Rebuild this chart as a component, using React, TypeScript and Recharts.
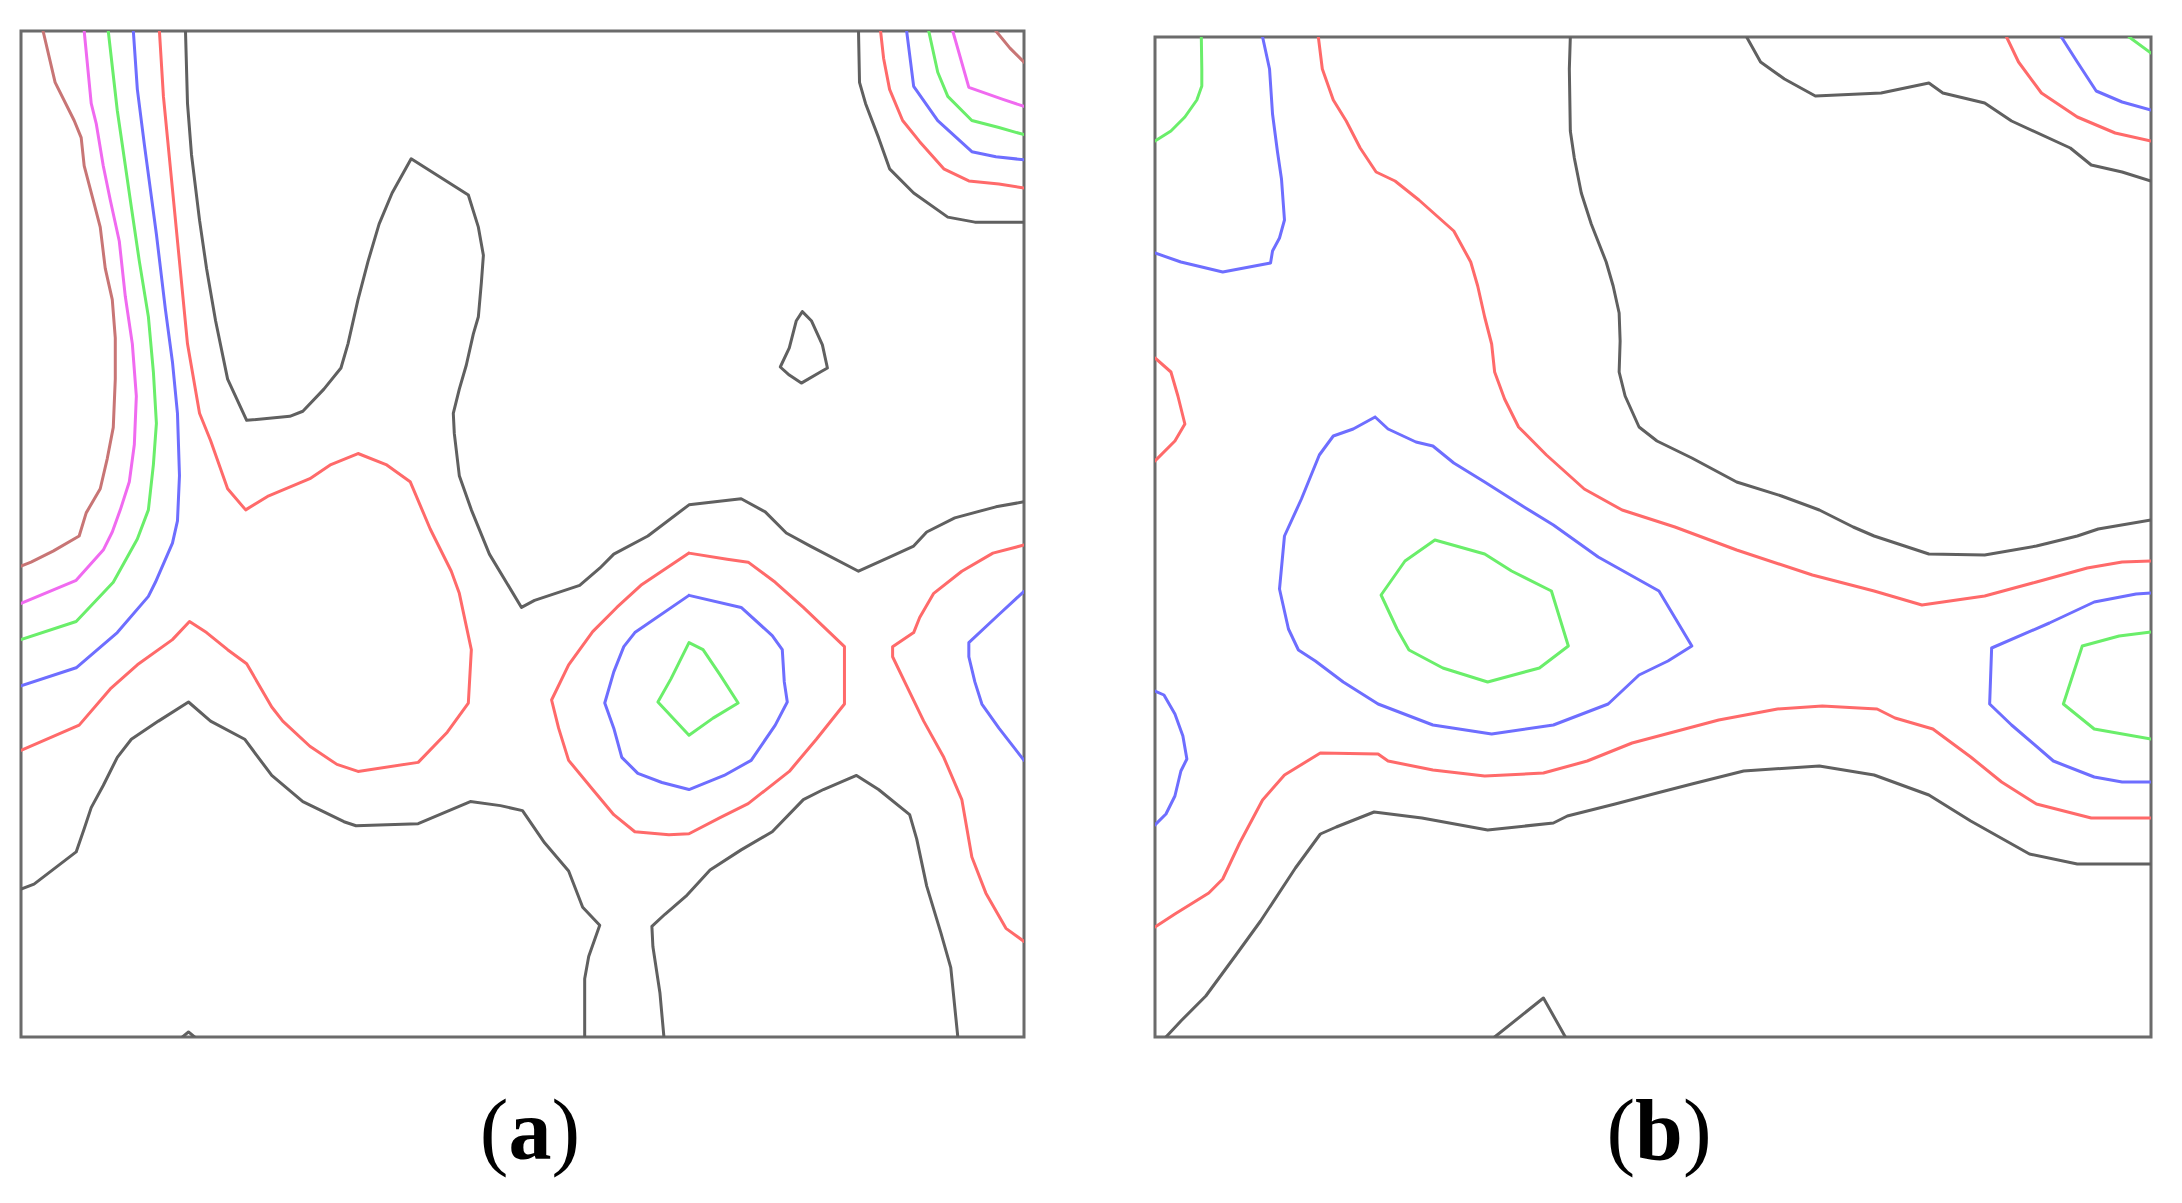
import React from 'react';
import { ScatterChart, Scatter, XAxis, YAxis, ReferenceArea } from 'recharts';

// contour traces, x/y in percent of the panel (0..100, y up)
type Pt = [number, number];

// ---- panel (a) ----
const aBrownLeft: Pt[] = [[2.2,100],[3.4,94.9],[5.3,91.1],[6.0,89.4],[6.3,86.6],[7.2,83.2],[7.9,80.5],[8.4,76.4],[9.1,73.3],[9.4,69.5],[9.4,65.4],[9.2,60.6],[8.6,57.5],[7.9,54.5],[6.5,52.1],[5.8,49.8],[3.2,48.3],[1.0,47.2],[0,46.8]];
const aMagentaLeft: Pt[] = [[6.3,100],[7.0,92.8],[7.5,90.8],[8.2,86.6],[8.9,83.2],[9.8,79.1],[10.4,73.6],[11.1,68.9],[11.5,63.7],[11.3,58.9],[10.8,55.2],[9.9,52.4],[9.1,50.2],[8.2,48.4],[5.5,45.4],[0,43.1]];
const aGreenLeft: Pt[] = [[8.7,100],[9.6,92.1],[10.1,88.7],[11.0,82.5],[11.8,77.1],[12.7,71.6],[13.2,66.1],[13.5,61.0],[13.2,56.9],[12.7,52.4],[11.6,49.5],[9.2,45.2],[5.5,41.3],[0,39.5]];
const aBlueLeft: Pt[] = [[11.2,100],[11.6,94.2],[12.3,88.7],[13.5,79.8],[14.4,72.3],[15.1,67.1],[15.6,62.0],[15.8,55.8],[15.6,51.3],[15.1,49.1],[13.4,45.2],[12.7,43.8],[9.6,40.2],[5.5,36.7],[0,34.9]];
const aRedMain: Pt[] = [[13.8,100],[14.2,93.5],[14.6,89.4],[15.8,77.1],[16.6,68.9],[17.8,62.0],[18.9,59.3],[20.6,54.5],[22.4,52.4],[24.7,53.8],[28.8,55.5],[30.9,56.9],[33.6,58.0],[36.4,56.9],[38.8,55.2],[40.8,50.5],[42.9,46.3],[43.7,44.1],[44.9,38.5],[44.6,33.2],[42.5,30.3],[39.6,27.3],[33.6,26.4],[31.5,27.1],[28.8,28.9],[26.1,31.4],[25.0,32.8],[22.5,37.1],[20.6,38.5],[18.5,40.2],[16.8,41.3],[15.1,39.5],[11.6,37.0],[8.9,34.6],[5.8,31.0],[0,28.5]];
const aBlackMain: Pt[] = [[16.4,100],[16.6,92.8],[17.0,87.7],[17.8,81.2],[18.5,76.4],[19.4,71.2],[20.6,65.4],[22.5,61.3],[26.8,61.7],[28.1,62.2],[30.2,64.4],[31.9,66.5],[32.6,68.9],[33.6,73.3],[34.6,77.1],[35.7,80.8],[37.0,83.9],[38.9,87.3],[44.6,83.7],[45.6,80.5],[46.1,77.7],[45.9,75.0],[45.6,71.6],[45.1,69.9],[44.4,66.8],[43.7,64.4],[43.1,62.0],[43.2,60.0],[43.7,55.8],[44.9,52.4],[46.7,48.0],[49.9,42.7],[51.2,43.4],[55.7,44.9],[57.7,46.6],[59.1,48.0],[62.5,49.8],[66.6,52.9],[71.8,53.5],[74.2,52.2],[76.3,50.1],[78.7,48.8],[83.5,46.3],[86.6,47.7],[89.0,48.8],[90.3,50.2],[93.1,51.6],[97.2,52.7],[100,53.2]];
const aBlackLowerLeft: Pt[] = [[0,14.7],[1.3,15.2],[5.5,18.4],[6.3,20.7],[7.0,22.8],[8.2,25.0],[9.6,27.8],[11.0,29.6],[13.7,31.4],[16.7,33.3],[18.9,31.4],[22.3,29.6],[25.0,26.0],[28.1,23.4],[32.2,21.4],[33.4,21.0],[39.6,21.2],[42.2,22.3],[44.8,23.4],[47.8,23.0],[50.0,22.5],[52.2,19.3],[54.6,16.5],[56.0,12.9],[57.7,11.1],[56.6,8.0],[56.2,5.8],[56.2,0]];
const aBlackLowerMid: Pt[] = [[64.1,0],[63.7,4.4],[63.0,9.0],[62.9,11.0],[64.2,12.2],[66.3,14.0],[68.7,16.6],[71.8,18.6],[74.9,20.4],[78.0,23.6],[80.0,24.6],[83.3,26.0],[85.5,24.6],[88.6,22.1],[89.3,19.7],[90.3,15.0],[91.7,10.4],[92.7,6.9],[93.4,0]];
const aRedRing: Pt[] = [[66.6,48.1],[70.4,47.5],[72.5,47.2],[75.2,45.2],[78.0,42.7],[82.1,38.8],[82.1,33.1],[79.3,29.6],[76.6,26.4],[72.5,23.2],[69.7,21.8],[66.6,20.2],[64.6,20.1],[61.2,20.4],[59.1,22.1],[57.0,24.6],[54.6,27.5],[53.6,30.7],[52.9,33.5],[54.6,37.0],[57.0,40.3],[59.4,42.7],[61.8,44.9],[66.6,48.1]];
const aBlueRing: Pt[] = [[66.6,43.9],[71.8,42.7],[74.9,39.9],[75.9,38.5],[76.1,35.3],[76.4,33.3],[75.2,31.0],[72.8,27.5],[70.1,26.0],[66.6,24.6],[63.9,25.3],[61.5,26.2],[59.9,27.8],[59.1,30.7],[58.2,33.2],[59.1,36.3],[60.1,38.8],[61.2,40.2],[66.6,43.9]];
const aGreenPeak: Pt[] = [[66.6,39.2],[68.0,38.5],[69.7,36.0],[71.5,33.2],[69.0,31.7],[66.6,30.0],[63.5,33.3],[64.8,35.6],[66.6,39.2]];
const aRedRight: Pt[] = [[100,48.9],[96.9,48.1],[93.8,46.3],[91.0,44.1],[89.6,41.7],[89.0,40.2],[86.9,38.8],[86.9,37.8],[88.3,34.9],[90.0,31.4],[92.0,27.8],[93.8,23.6],[94.8,17.9],[96.2,14.3],[98.2,10.8],[100,9.5]];
const aBlueRight: Pt[] = [[100,44.3],[97.5,42.0],[94.5,39.2],[94.5,37.8],[95.1,35.3],[95.8,33.1],[97.5,30.7],[100,27.5]];
const aBlackTopRight: Pt[] = [[83.5,100],[83.6,94.9],[84.2,92.8],[85.5,89.4],[86.6,86.3],[89.0,83.9],[92.4,81.5],[95.1,81.0],[100,81.0]];
const aRedTopRight: Pt[] = [[85.7,100],[86.0,97.3],[86.6,94.2],[87.9,91.1],[89.6,89.0],[92.0,86.3],[94.5,85.1],[97.5,84.8],[100,84.4]];
const aBlueTopRight: Pt[] = [[88.3,100],[89.0,94.5],[91.4,91.1],[94.8,88.0],[97.2,87.5],[100,87.2]];
const aGreenTopRight: Pt[] = [[90.5,100],[91.4,95.9],[92.4,93.5],[94.8,91.1],[97.5,90.4],[100,89.7]];
const aMagentaTopRight: Pt[] = [[92.9,100],[94.5,94.4],[97.9,93.2],[100,92.5]];
const aBrownTopRight: Pt[] = [[97.2,100],[98.6,98.3],[100,96.9]];
const aBlackIsland: Pt[] = [[77.9,72.1],[78.8,71.2],[79.9,68.8],[80.4,66.5],[79.7,66.1],[77.8,65.0],[76.6,65.8],[75.7,66.6],[76.6,68.5],[77.3,71.2],[77.9,72.1]];
const aBlackNub: Pt[] = [[16.1,0],[16.7,0.5],[17.3,0]];

// ---- panel (b) ----
const bGreenTopLeft: Pt[] = [[4.65,100],[4.7,96.8],[4.7,95.1],[4.2,93.7],[3.0,92.0],[1.6,90.6],[0,89.6]];
const bBlueTopLeft: Pt[] = [[10.8,100],[11.5,96.8],[11.8,92.3],[12.3,88.5],[12.7,85.8],[13.0,81.7],[12.5,79.9],[11.8,78.6],[11.6,77.4],[6.8,76.5],[2.6,77.5],[0,78.4]];
const bRedMain: Pt[] = [[16.4,100],[16.8,96.8],[17.9,93.7],[19.2,91.6],[20.6,88.9],[22.2,86.5],[24.1,85.6],[26.5,83.7],[30.0,80.6],[31.7,77.5],[32.4,75.1],[33.1,72.0],[33.8,69.3],[34.1,66.5],[35.1,63.8],[36.5,61.0],[39.3,58.2],[43.1,54.8],[46.9,52.7],[52.2,51.0],[58.4,48.7],[66.0,46.2],[72.2,44.6],[77.0,43.2],[83.3,44.1],[88.5,45.5],[93.6,46.9],[97.1,47.5],[100,47.6]];
const bBlackMain: Pt[] = [[41.7,100],[41.6,96.8],[41.7,90.6],[42.1,87.9],[42.8,84.4],[43.8,81.3],[45.3,77.5],[46.0,75.1],[46.6,72.4],[46.7,69.6],[46.6,66.5],[47.2,64.1],[48.6,61.0],[50.4,59.6],[53.9,57.9],[58.4,55.5],[62.9,54.1],[66.7,52.7],[70.1,51.0],[72.2,50.1],[77.7,48.3],[83.3,48.2],[88.5,49.1],[92.6,50.1],[94.7,50.8],[100,51.7]];
const bBlackTopRight: Pt[] = [[59.4,100],[60.8,97.5],[63.2,95.8],[66.3,94.1],[72.9,94.4],[77.7,95.4],[79.1,94.4],[83.3,93.4],[86.0,91.6],[91.9,88.9],[94.0,87.2],[97.1,86.5],[100,85.6]];
const bRedTopRight: Pt[] = [[85.5,100],[86.7,97.5],[89.0,94.4],[92.6,92.0],[96.4,90.4],[100,89.6]];
const bBlueTopRight: Pt[] = [[91.0,100],[92.6,97.5],[94.5,94.6],[97.1,93.5],[100,92.7]];
const bGreenTopRight: Pt[] = [[97.8,100],[100,98.4]];
const bRedLeftBulge: Pt[] = [[0,67.9],[1.6,66.5],[2.3,64.1],[3.0,61.3],[2.0,59.6],[0,57.6]];
const bBlueLeftBulge: Pt[] = [[0,34.6],[0.9,34.2],[2.0,32.3],[2.8,30.1],[3.2,27.8],[2.6,26.6],[2.0,24.1],[1.1,22.3],[0,21.2]];
const bBlueLoop: Pt[] = [[22.1,62.0],[23.4,60.8],[26.2,59.5],[27.9,59.1],[30.0,57.4],[33.1,55.5],[36.9,53.1],[40.0,51.2],[44.5,48.0],[50.6,44.6],[53.9,39.1],[51.5,37.6],[48.6,36.2],[45.5,33.3],[40.0,31.2],[33.8,30.3],[27.9,31.2],[22.4,33.3],[18.9,35.5],[16.1,37.6],[14.4,38.7],[13.4,40.8],[12.5,44.8],[13.0,50.1],[14.7,53.8],[16.5,58.2],[17.9,60.1],[19.9,60.8],[22.1,62.0]];
const bGreenLoop: Pt[] = [[28.1,49.7],[33.1,48.3],[35.8,46.6],[39.8,44.6],[41.5,39.1],[38.6,36.9],[33.4,35.5],[28.9,36.9],[25.5,38.7],[24.3,40.8],[22.7,44.2],[25.1,47.6],[28.1,49.7]];
const bRedLower: Pt[] = [[0,11.0],[2.0,12.3],[5.4,14.4],[6.8,15.8],[8.5,19.4],[10.8,23.7],[13.0,26.2],[16.6,28.4],[22.4,28.3],[23.4,27.6],[27.9,26.7],[33.1,26.1],[39.0,26.4],[43.4,27.6],[47.9,29.4],[53.2,30.8],[56.6,31.7],[62.5,32.8],[67.0,33.1],[72.5,32.8],[74.3,31.9],[78.1,30.8],[81.9,28.0],[85.0,25.5],[88.5,23.3],[94.0,21.9],[100,21.9]];
const bBlueRight: Pt[] = [[100,44.4],[98.5,44.3],[94.3,43.5],[89.8,41.4],[84.0,38.9],[83.8,33.3],[86.0,31.2],[90.2,27.6],[94.3,26.0],[97.1,25.5],[100,25.5]];
const bGreenRight: Pt[] = [[100,40.5],[96.8,40.1],[93.1,39.1],[91.2,33.3],[94.3,30.8],[100,29.8]];
const bBlackLower: Pt[] = [[1.1,0],[2.6,1.6],[5.1,4.1],[8.2,8.3],[10.6,11.6],[14.1,16.9],[16.6,20.3],[18.2,21.0],[22.0,22.5],[26.8,21.9],[33.4,20.7],[40.0,21.4],[41.4,22.1],[46.2,23.3],[50.4,24.4],[53.9,25.3],[59.1,26.6],[66.7,27.1],[72.2,26.2],[77.7,24.2],[81.9,21.6],[87.8,18.3],[92.6,17.3],[100,17.3]];
const bBlackBump: Pt[] = [[34.1,0],[39.0,3.9],[41.2,0]];

// contour level of each trace (1 = lowest)
const panelA: { level: number; points: Pt[] }[] = [
  { level: 1, points: aBlackMain },
  { level: 1, points: aBlackLowerLeft },
  { level: 1, points: aBlackLowerMid },
  { level: 1, points: aBlackTopRight },
  { level: 1, points: aBlackIsland },
  { level: 1, points: aBlackNub },
  { level: 2, points: aRedMain },
  { level: 2, points: aRedRing },
  { level: 2, points: aRedRight },
  { level: 2, points: aRedTopRight },
  { level: 3, points: aBlueLeft },
  { level: 3, points: aBlueRing },
  { level: 3, points: aBlueRight },
  { level: 3, points: aBlueTopRight },
  { level: 4, points: aGreenLeft },
  { level: 4, points: aGreenPeak },
  { level: 4, points: aGreenTopRight },
  { level: 5, points: aMagentaLeft },
  { level: 5, points: aMagentaTopRight },
  { level: 6, points: aBrownLeft },
  { level: 6, points: aBrownTopRight },
];

const panelB: { level: number; points: Pt[] }[] = [
  { level: 1, points: bBlackMain },
  { level: 1, points: bBlackTopRight },
  { level: 1, points: bBlackLower },
  { level: 1, points: bBlackBump },
  { level: 2, points: bRedMain },
  { level: 2, points: bRedTopRight },
  { level: 2, points: bRedLeftBulge },
  { level: 2, points: bRedLower },
  { level: 3, points: bBlueTopLeft },
  { level: 3, points: bBlueTopRight },
  { level: 3, points: bBlueLeftBulge },
  { level: 3, points: bBlueLoop },
  { level: 3, points: bBlueRight },
  { level: 4, points: bGreenTopLeft },
  { level: 4, points: bGreenTopRight },
  { level: 4, points: bGreenLoop },
  { level: 4, points: bGreenRight },
];

const LEVEL_COLORS: Record<number, string> = {
  1: '#606060',
  2: '#ff6a6a',
  3: '#6e6eff',
  4: '#6aee6a',
  5: '#f06af0',
  6: '#c87575',
};

const NoDot = () => <g />;

interface PanelProps {
  contours: { level: number; points: Pt[] }[];
  left: number;
  top: number;
  width: number;
  height: number;
}

const PAD = 3;

const ContourPanel: React.FC<PanelProps> = ({ contours, left, top, width, height }) => (
  <div style={{ position: 'absolute', left: left - PAD, top: top - PAD }}>
    <ScatterChart
      width={width + PAD * 2}
      height={height + PAD * 2}
      margin={{ top: PAD, right: PAD, bottom: PAD, left: PAD }}
    >
      <XAxis type="number" dataKey="x" domain={[0, 100]} hide allowDataOverflow />
      <YAxis type="number" dataKey="y" domain={[0, 100]} hide allowDataOverflow />
      {contours.map((c, i) => (
        <Scatter
          key={i}
          data={c.points.map(([x, y]) => ({ x, y }))}
          fill={LEVEL_COLORS[c.level]}
          line={{
            stroke: LEVEL_COLORS[c.level],
            strokeWidth: 3,
            strokeLinejoin: 'round',
            strokeLinecap: 'round',
          }}
          lineType="joint"
          shape={NoDot}
          isAnimationActive={false}
        />
      ))}
      <ReferenceArea
        x1={0}
        x2={100}
        y1={0}
        y2={100}
        fill="none"
        fillOpacity={0}
        stroke="#6b6b6b"
        strokeWidth={3}
        ifOverflow="visible"
      />
    </ScatterChart>
  </div>
);

const labelStyle: React.CSSProperties = {
  position: 'absolute',
  top: 1087,
  transform: 'translateX(-50%)',
  fontFamily: '"Liberation Serif", "Times New Roman", serif',
  fontSize: 86,
  fontWeight: 400,
  lineHeight: 1,
  color: '#000',
  whiteSpace: 'nowrap',
};

export default function App() {
  return (
    <div
      style={{
        position: 'absolute',
        left: 0,
        top: 0,
        width: 2182,
        height: 1203,
        background: '#fff',
        overflow: 'hidden',
      }}
    >
      <ContourPanel contours={panelA} left={21} top={31} width={1003} height={1006} />
      <ContourPanel contours={panelB} left={1155} top={37} width={996} height={1000} />
      <div style={{ ...labelStyle, left: 530 }}>
        (<b>a</b>)
      </div>
      <div style={{ ...labelStyle, left: 1659 }}>
        (<b>b</b>)
      </div>
    </div>
  );
}
